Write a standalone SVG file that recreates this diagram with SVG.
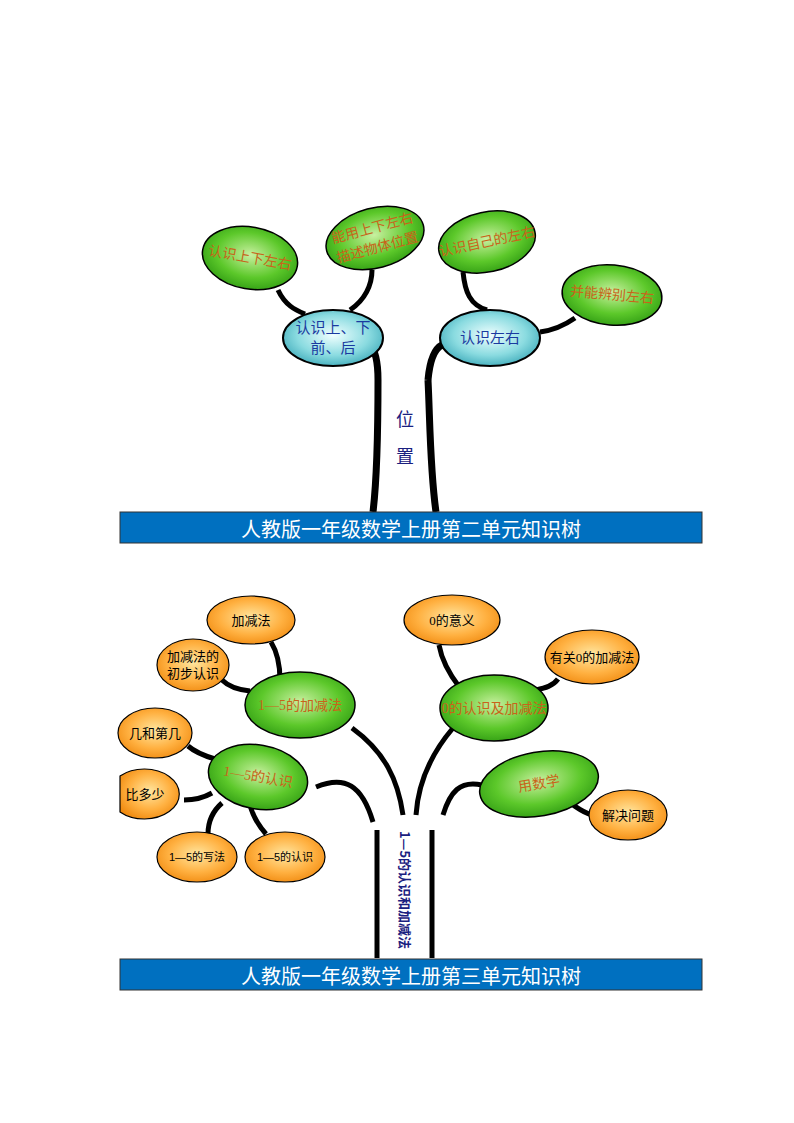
<svg xmlns="http://www.w3.org/2000/svg" width="794" height="1123" viewBox="0 0 794 1123">
<defs>
<radialGradient id="gG" cx="50%" cy="45%" r="60%"><stop offset="0" stop-color="#c8f0a0"/><stop offset="0.6" stop-color="#5cc82a"/><stop offset="1" stop-color="#2e9a12"/></radialGradient>
<radialGradient id="gC" cx="50%" cy="45%" r="60%"><stop offset="0" stop-color="#f0ffff"/><stop offset="0.6" stop-color="#8adbe0"/><stop offset="1" stop-color="#3aa8b8"/></radialGradient>
<radialGradient id="gO" cx="50%" cy="45%" r="60%"><stop offset="0" stop-color="#ffe6a0"/><stop offset="0.6" stop-color="#ffb040"/><stop offset="1" stop-color="#f08a10"/></radialGradient>
</defs>
<style>
text{font-family:"Liberation Serif","Noto Sans CJK SC",serif;text-anchor:middle;dominant-baseline:central}
.g{fill:url(#gG);stroke:#000;stroke-width:1.5}
.c{fill:url(#gC);stroke:#000;stroke-width:2}
.o{fill:url(#gO);stroke:#000;stroke-width:1.2}
.tg{fill:#c8641a;font-size:14px}
.tc{fill:#1a3aa0;font-size:15px}
.to{fill:#000;font-size:13px}
.ts{fill:#000;font-size:11px;font-family:"Liberation Sans","Noto Sans CJK SC",sans-serif}
.br{fill:none;stroke:#000;stroke-width:5;stroke-linecap:butt}
.tr{fill:none;stroke:#000;stroke-width:7}
.ban{fill:#0070c0;stroke:#333;stroke-width:1}
.bt{fill:#fff;font-size:20px;font-family:"Noto Sans CJK SC",sans-serif}
</style>
<g id="connectors">
<path class="tr" d="M373,512 C378,470 378,420 378,380"/>
<path class="tr" d="M378,380 C378,360 375,350 370,345" stroke-width="9"/>
<path class="tr" d="M436,512 C430,470 430,420 428,380"/>
<path class="tr" d="M428,380 C430,358 436,348 442,345" stroke-width="9"/>
<path class="br" d="M278,290 C285,305 295,310 305,314"/>
<path class="br" d="M372,270 C372,285 365,300 350,310"/>
<path class="br" d="M463,272 C465,292 470,305 487,310"/>
<path class="br" d="M540,332 C555,330 565,325 575,318"/>
<path class="br" d="M377,830 L377,958"/>
<path class="br" d="M432,830 L432,958"/>
<path class="br" d="M316,787 C345,775 362,785 373,822"/>
<path class="br" d="M352,728 C385,752 398,780 403,815"/>
<path class="br" d="M453,728 C430,755 418,785 416,815"/>
<path class="br" d="M443,815 C450,792 460,780 482,785"/>
<path class="br" d="M271,642 C279,655 280,668 280,680" stroke-width="4"/>
<path class="br" d="M222,680 C230,688 240,690 250,691" stroke-width="4"/>
<path class="br" d="M439,645 C442,662 450,675 460,688" stroke-width="4"/>
<path class="br" d="M558,679 C553,686 545,688 536,690" stroke-width="4"/>
<path class="br" d="M188,746 C196,753 205,756 215,759" stroke-width="4"/>
<path class="br" d="M184,800 C195,800 205,797 212,793" stroke-width="4"/>
<path class="br" d="M208,834 C208,820 214,810 222,803" stroke-width="4"/>
<path class="br" d="M266,834 C258,825 253,817 250,805" stroke-width="4"/>
<path class="br" d="M592,815 C582,812 578,808 570,803" stroke-width="4"/>
</g>
<g id="n-banner1"><rect class="ban" x="120" y="512" width="582" height="31"/><text class="bt" x="411" y="528">人教版一年级数学上册第二单元知识树</text></g>
<g id="n-trunk1"><text x="405" y="420" style="fill:#1a2080;font-size:18px">位</text><text x="405" y="457" style="fill:#1a2080;font-size:18px">置</text></g>
<g id="n-a1"><ellipse class="c" cx="333" cy="338" rx="50" ry="28"/><text class="tc" x="333" y="328">认识上、下</text><text class="tc" x="333" y="348">前、后</text></g>
<g id="n-a2"><ellipse class="c" cx="490" cy="338" rx="50" ry="28"/><text class="tc" x="490" y="338">认识左右</text></g>
<g id="n-a3" transform="rotate(10 250 258)"><ellipse class="g" cx="250" cy="258" rx="48" ry="31"/><text class="tg" x="250" y="258">认识上下左右</text></g>
<g id="n-a4" transform="rotate(-15 375 238)"><ellipse class="g" cx="375" cy="238" rx="50" ry="30"/><text class="tg" x="375" y="228">能用上下左右</text><text class="tg" x="375" y="248">描述物体位置</text></g>
<g id="n-a5" transform="rotate(-12 487 242)"><ellipse class="g" cx="487" cy="242" rx="49" ry="30"/><text class="tg" x="487" y="242">认识自己的左右</text></g>
<g id="n-a6" transform="rotate(5 612 295)"><ellipse class="g" cx="612" cy="295" rx="50" ry="30"/><text class="tg" x="612" y="295">并能辨别左右</text></g>

<g id="n-banner2"><rect class="ban" x="120" y="959" width="582" height="31"/><text class="bt" x="411" y="975">人教版一年级数学上册第三单元知识树</text></g>
<g id="n-trunk2"><text transform="translate(405,890) rotate(90)" style="fill:#1a2080;font-size:13px;font-weight:bold;font-family:'Noto Sans CJK SC',sans-serif">1—5的认识和加减法</text></g>
<g id="n-b1"><ellipse class="g" cx="300" cy="705" rx="55" ry="33"/><text class="tg" x="300" y="705">1—5的加减法</text></g>
<g id="n-b2"><ellipse class="g" cx="494" cy="708" rx="54" ry="33"/><text class="tg" x="494" y="708">0的认识及加减法</text></g>
<g id="n-b3" transform="rotate(10 258 777)"><ellipse class="g" cx="258" cy="777" rx="50" ry="32"/><text class="tg" x="258" y="777">1—5的认识</text></g>
<g id="n-b4" transform="rotate(-10 539 784)"><ellipse class="g" cx="539" cy="784" rx="60" ry="32"/><text class="tg" x="539" y="784">用数学</text></g>
<g id="n-c1"><ellipse class="o" cx="251" cy="620" rx="44" ry="24"/><text class="to" x="251" y="620">加减法</text></g>
<g id="n-c2"><ellipse class="o" cx="193" cy="665" rx="36" ry="26"/><text class="to" x="193" y="656">加减法的</text><text class="to" x="193" y="673">初步认识</text></g>
<g id="n-c3"><ellipse class="o" cx="452" cy="620" rx="48" ry="25"/><text class="to" x="452" y="620">0的意义</text></g>
<g id="n-c4"><ellipse class="o" cx="592" cy="657" rx="47" ry="27"/><text class="to" x="592" y="657">有关0的加减法</text></g>
<g id="n-c5"><ellipse class="o" cx="155" cy="733" rx="37" ry="25"/><text class="to" x="155" y="733">几和第几</text></g>
<g id="n-c6"><path class="o" d="M120,776 A35,25 0 1 1 120,812 Z"/><text class="to" x="145" y="794">比多少</text></g>
<g id="n-c7"><ellipse class="o" cx="197" cy="857" rx="40" ry="25"/><text class="ts" x="197" y="857">1—5的写法</text></g>
<g id="n-c8"><ellipse class="o" cx="285" cy="857" rx="40" ry="25"/><text class="ts" x="285" y="857">1—5的认识</text></g>
<g id="n-c9"><ellipse class="o" cx="628" cy="815" rx="39" ry="25"/><text class="to" x="628" y="815">解决问题</text></g>
</svg>
